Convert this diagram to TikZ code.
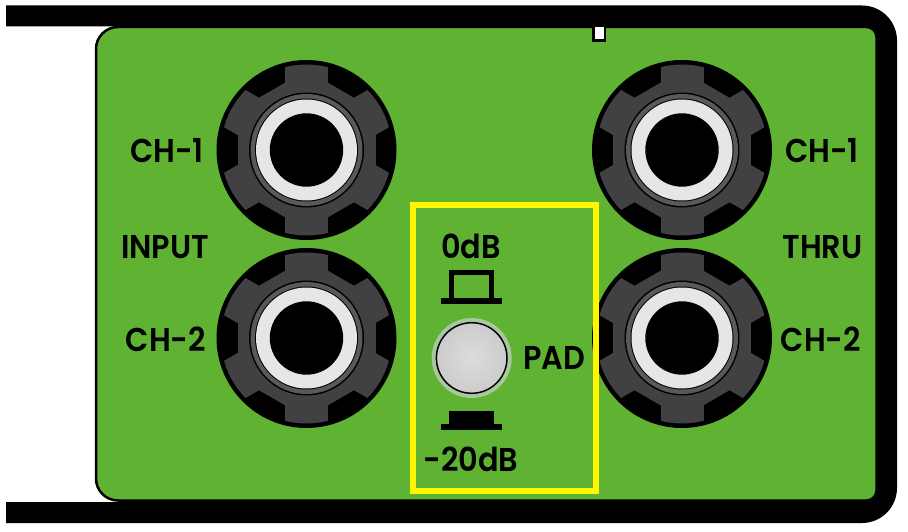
\documentclass[tikz,border=0pt]{standalone}
\usepackage{fontspec}
\setmainfont{Poppins SemiBold}
\definecolor{panelgreen}{HTML}{60B332}
\definecolor{geardark}{HTML}{414042}
\definecolor{ringgrey}{HTML}{58595B}
\definecolor{ringwhite}{HTML}{E6E6E6}
\definecolor{padyellow}{HTML}{FFF700}
\definecolor{padring}{HTML}{A9C8A0}
\tikzset{
  lbl/.style={inner sep=0pt,xscale=0.92,font=\fontsize{33}{33}\selectfont,text=black},
  knob/.pic={
    \fill[black] (0,0) circle[radius=90];
    \begin{scope}
      \clip (0,0) circle[radius=85.5];
      \foreach \a in {0,60,120}{
        \fill[geardark,rotate=\a] (-69,-40) rectangle (69,40);
        \fill[geardark,rotate=\a] (-21.5,-90) rectangle (21.5,90);
      }
    \end{scope}
    \fill[black] (0,0) circle[radius=57.5];
    \fill[ringgrey] (0,0) circle[radius=56];
    \fill[black] (0,0) circle[radius=51.5];
    \fill[ringwhite] (0,0) circle[radius=50.5];
    \fill[black] (0,0) circle[radius=36.7];
  }
}
\begin{document}
\begin{tikzpicture}[x=1pt,y=-1pt]
\useasboundingbox[fill=white] (0,0) rectangle (908,532);
% chassis
\fill[black] (6,5.5) -- (862,5.5) arc[start angle=90,end angle=0,radius=35,y radius=-35]
  -- (897,488) arc[start angle=0,end angle=-90,radius=35,y radius=-35] -- (6,523)
  -- (6,502) -- (120,502) -- (120,26.5) -- (6,26.5) -- cycle;
% panel
\filldraw[fill=panelgreen,draw=black,line width=2.5pt]
  (300,27) [rounded corners=10pt] -- (876.5,27) -- (876.5,500.5) [sharp corners] -- (300,500.5)
  [rounded corners=22pt] -- (96,500.5) -- (96,27) [sharp corners] -- cycle;
\fill[black] (592,26) rectangle (606,42.5);
\fill[white] (594.5,27) rectangle (604,39);
% knobs
\path (306.5,150) pic {knob};
\path (306.5,338) pic {knob};
\path (682,150) pic {knob};
\path (682,338) pic {knob};
% pad box
\draw[padyellow,line width=6.5pt] (413,205) rectangle (596,491);
\draw[black,line width=5pt] (451.5,300) -- (451.5,272.5) -- (491.5,272.5) -- (491.5,300);
\fill[black] (440.7,298.3) rectangle (502,304);
\fill[black] (449,410.7) rectangle (494,425);
\fill[black] (440.7,424) rectangle (502,430);
\fill[padring] (471.7,358) circle[radius=40];
\shade[inner color=ringwhite!90!gray,outer color=black!20,draw=black,line width=1.5pt] (471.7,358) circle[radius=35.3];
% labels
\node[lbl] (ch1l) at (167,151) {CH-1};
\node[lbl] (ch2l) at (166,339) {CH-2};
\node[lbl] (ch1r) at (822,151) {CH-1};
\node[lbl] (ch2r) at (821,339) {CH-2};
\node[lbl] (inp) at (165,247) {INPUT};
\node[lbl] (thr) at (822.5,247) {THRU};
\node[lbl] (zero) at (471,246) {0dB};
\node[lbl] (pad) at (554.5,358) {PAD};
\node[lbl] (twenty) at (471,459) {-20dB};
\end{tikzpicture}
\end{document}
